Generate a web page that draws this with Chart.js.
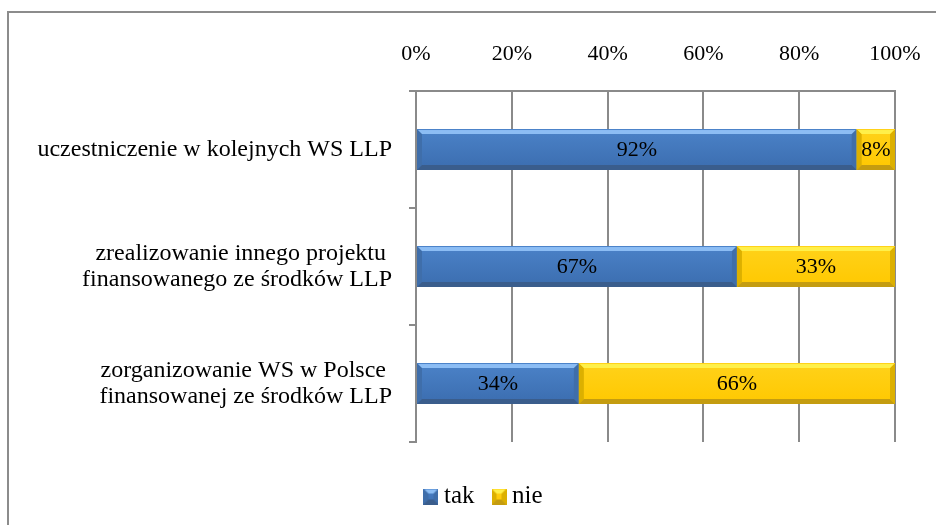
<!DOCTYPE html>
<html lang="pl">
<head>
<meta charset="utf-8">
<title>Wykres</title>
<script src="https://cdn.jsdelivr.net/npm/chart.js@4.4.1/dist/chart.umd.min.js"></script>
<style>
  html, body { margin: 0; padding: 0; background: #fff; }
  body { width: 936px; height: 525px; position: relative; overflow: hidden; }
  .frame {
    position: absolute; left: 7px; top: 11px; width: 1000px; height: 600px;
    border-left: 2px solid #8c8c8c; border-top: 2px solid #8c8c8c;
  }
  /* the chart box runs past the right edge of the page */
  .wrap { position: absolute; left: 0; top: 0; width: 973px; height: 525px; }
</style>
</head>
<body>
<div class="frame"></div>
<div class="wrap"><canvas id="chart"></canvas></div>
<script>
const categories = [
  'uczestniczenie w kolejnych WS LLP',
  ['zrealizowanie innego projektu ', 'finansowanego ze środków LLP'],
  ['zorganizowanie WS w Polsce ', 'finansowanej ze środków LLP']
];
const seriesNames = ['tak', 'nie'];
const takValues = [92, 67, 34];
const nieValues = [8, 33, 66];
const xTicks = [0, 20, 40, 60, 80, 100];

const FONT = "'Liberation Serif', 'Times New Roman', serif";
const GRID = '#8a8a8a';

// bevel colours: body top/bottom, light top edge, dark bottom edge, side edges
const BEVEL = {
  tak: { top: '#4b82c8', bottom: '#3b6daf', light: '#8cbdf4', dark: '#3a5d8c', side: '#3f6eaa' },
  nie: { top: '#ffd21a', bottom: '#ffc800', light: '#fff04a', dark: '#c49c10', side: '#dcb000' }
};

function drawBevel(ctx, left, top, right, bottom, c) {
  const b = Math.min(5, (right - left) / 3, (bottom - top) / 3);
  const g = ctx.createLinearGradient(0, top, 0, bottom);
  g.addColorStop(0, c.top);
  g.addColorStop(1, c.bottom);
  ctx.fillStyle = g;
  ctx.fillRect(left, top, right - left, bottom - top);

  const poly = (pts, color) => {
    ctx.beginPath();
    ctx.moveTo(pts[0][0], pts[0][1]);
    for (let i = 1; i < pts.length; i++) ctx.lineTo(pts[i][0], pts[i][1]);
    ctx.closePath();
    ctx.fillStyle = color;
    ctx.fill();
  };
  // left / right edges
  poly([[left, top], [left + b, top + b], [left + b, bottom - b], [left, bottom]], c.side);
  poly([[right, top], [right - b, top + b], [right - b, bottom - b], [right, bottom]], c.side);
  // top highlight and bottom shade
  poly([[left, top], [right, top], [right - b, top + b], [left + b, top + b]], c.light);
  poly([[left, bottom], [right, bottom], [right - b, bottom - b], [left + b, bottom - b]], c.dark);
  ctx.fillStyle = c.top;
  ctx.fillRect(left, top, right - left, 1);
}

function makeMarker(c) {
  const cv = document.createElement('canvas');
  cv.width = 15; cv.height = 16;
  drawBevel(cv.getContext('2d'), 0, 0, 15, 16, c);
  return cv;
}

const markers = { tak: makeMarker(BEVEL.tak), nie: makeMarker(BEVEL.nie) };

// bevelled bars + value labels on top of the plain bars
const bevelBars = {
  id: 'bevelBars',
  afterDatasetsDraw(chart) {
    const ctx = chart.ctx;
    ctx.save();
    chart.data.datasets.forEach((ds, di) => {
      const meta = chart.getDatasetMeta(di);
      if (meta.hidden) return;
      const colors = BEVEL[ds.label];
      meta.data.forEach((el) => {
        const { x, y, base, height } = el.getProps(['x', 'y', 'base', 'height'], true);
        drawBevel(ctx, Math.min(x, base), y - height / 2, Math.max(x, base), y + height / 2, colors);
      });
    });
    ctx.font = '22px ' + FONT;
    ctx.fillStyle = '#000';
    ctx.textAlign = 'center';
    ctx.textBaseline = 'middle';
    chart.data.datasets.forEach((ds, di) => {
      const meta = chart.getDatasetMeta(di);
      if (meta.hidden) return;
      meta.data.forEach((el, i) => {
        const { x, y, base } = el.getProps(['x', 'y', 'base'], true);
        ctx.fillText(ds.data[i] + '%', (x + base) / 2, y + 1);
      });
    });
    ctx.restore();
  }
};

new Chart(document.getElementById('chart'), {
  type: 'bar',
  data: {
    labels: categories,
    datasets: [
      { label: seriesNames[0], data: takValues, backgroundColor: BEVEL.tak.top },
      { label: seriesNames[1], data: nieValues, backgroundColor: BEVEL.nie.top }
    ]
  },
  options: {
    indexAxis: 'y',
    responsive: true,
    maintainAspectRatio: false,
    animation: false,
    layout: { padding: { left: 0, right: 0, top: 0, bottom: 6 } },
    datasets: { bar: { barPercentage: 0.35, categoryPercentage: 1, borderWidth: 0 } },
    plugins: {
      tooltip: { enabled: false },
      legend: {
        position: 'bottom',
        title: { display: true, text: '', font: { size: 10 }, padding: { top: 6, bottom: 0 } },
        labels: {
          usePointStyle: true,
          boxWidth: 1,
          padding: 24,
          color: '#000',
          font: { family: FONT, size: 25 },
          generateLabels: (chart) =>
            Chart.defaults.plugins.legend.labels.generateLabels(chart).map(item => ({
              ...item, pointStyle: markers[item.text]
            }))
        }
      }
    },
    scales: {
      x: {
        position: 'top',
        stacked: true,
        min: 0,
        max: 100,
        afterBuildTicks: (scale) => { scale.ticks = xTicks.map(v => ({ value: v })); },
        afterFit: (scale) => { scale.height = 91; scale.paddingRight = 78; },
        ticks: {
          padding: 24,
          color: '#000',
          font: { family: FONT, size: 22 },
          callback: (v) => v + '%'
        },
        grid: { color: GRID, lineWidth: 2, drawTicks: false },
        border: { color: GRID, width: 2 }
      },
      y: {
        stacked: true,
        afterFit: (scale) => { scale.width = 416; },
        ticks: {
          padding: 17,
          color: '#000',
          font: { family: FONT, size: 24, lineHeight: 26 / 24 }
        },
        grid: { offset: true, drawOnChartArea: false, color: GRID, lineWidth: 2, tickLength: 7 },
        border: { color: GRID, width: 2 }
      }
    }
  },
  plugins: [bevelBars]
});
</script>
</body>
</html>
